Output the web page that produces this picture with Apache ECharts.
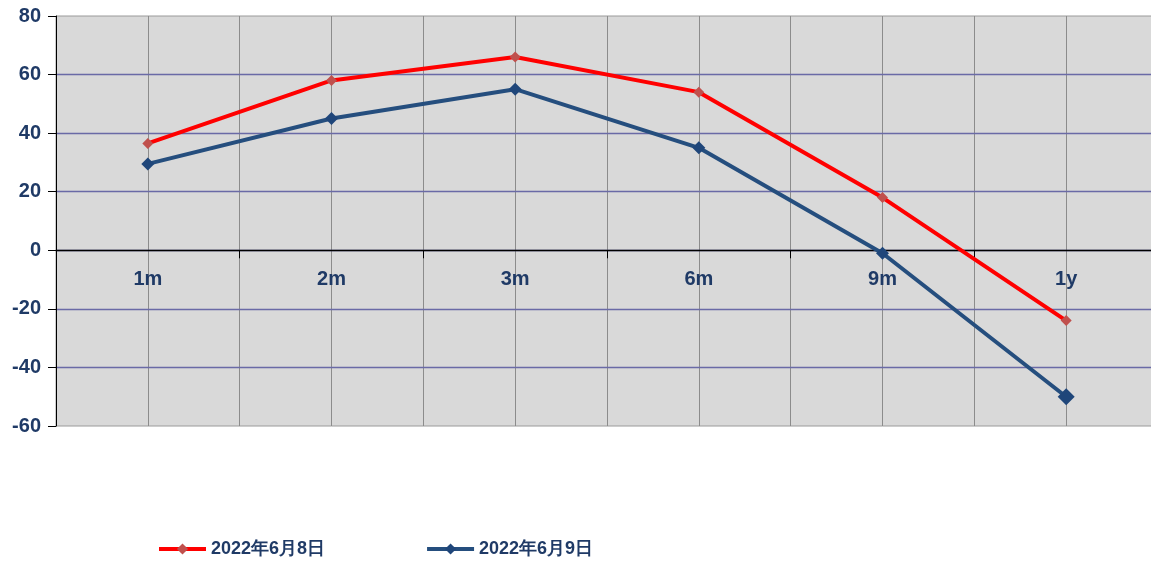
<!DOCTYPE html>
<html><head><meta charset="utf-8">
<script src="https://cdn.jsdelivr.net/npm/echarts@6/dist/echarts.min.js"></script>
<style>html,body{margin:0;padding:0;background:#fff;overflow:hidden}#c{width:1158px;height:574px}</style>
</head><body><div id="c"></div>
<script>
const categories = ['1m','2m','3m','6m','9m','1y'];
const series1Name = '2022年6月8日';
const series2Name = '2022年6月9日';
const series1 = [36.5, 58, 66, 54, 18, -24];
const series2 = [29.5, 45, 55, 35, -1, -50];
const yTicks = {min: -60, max: 80, interval: 20};

const halfCats = [];
categories.forEach(c => { halfCats.push(c + 'a'); halfCats.push(c + 'b'); });

const txt = '#1f3a66';
const font = '"Liberation Sans", Arial, sans-serif';
const gridTop = 16, gridH = 410;
const zeroOffset = gridH * (0 - yTicks.min) / (yTicks.max - yTicks.min);
const purple = '#6a6aa6', gray = '#9a9a9a';
const chart = echarts.init(document.getElementById('c'));
chart.setOption({
  animation: false,
  backgroundColor: '#fff',
  grid: {left: 56, right: 0, top: gridTop, height: gridH, show: true, backgroundColor: '#d9d9d9', borderColor: gray, borderWidth: 1},
  legend: {
    top: 535, left: 152, itemGap: 100, itemWidth: 47, itemHeight: 14,
    textStyle: {color: txt, fontWeight: 'bold', fontSize: 18, fontFamily: font},
    lineStyle: {width: 4},
    data: [series1Name, series2Name]
  },
  xAxis: [{
    type: 'category', data: categories, boundaryGap: true,
    position: 'bottom', offset: -zeroOffset, z: 2,
    axisLine: {onZero: false, lineStyle: {color: '#000', width: 1.3}},
    axisTick: {show: true, length: 8, lineStyle: {color: '#000'}},
    axisLabel: {color: txt, fontWeight: 'bold', fontSize: 20, fontFamily: font, margin: 19},
    splitLine: {show: false}
  }, {
    type: 'category', data: halfCats, boundaryGap: true, position: 'top',
    axisLine: {show: false}, axisTick: {show: false}, axisLabel: {show: false},
    splitLine: {show: true, lineStyle: {color: '#8c8c8c', width: 1}}
  }],
  yAxis: {
    type: 'value', min: yTicks.min, max: yTicks.max, interval: yTicks.interval,
    axisLine: {show: true, onZero: false, lineStyle: {color: '#000'}},
    axisTick: {show: true, length: 8, lineStyle: {color: '#000'}},
    axisLabel: {color: txt, fontWeight: 'bold', fontSize: 20, fontFamily: font, margin: 15},
    splitLine: {show: true, showMinLine: false, showMaxLine: false, lineStyle: {color: purple, width: 1.3}},
    z: 1
  },
  series: [{
    name: series1Name, type: 'line', data: series1, xAxisIndex: 0,
    symbol: 'diamond', symbolSize: 11,
    lineStyle: {color: '#ff0000', width: 4},
    itemStyle: {color: '#c0504d'}, z: 3
  }, {
    name: series2Name, type: 'line', xAxisIndex: 0,
    data: series2.map((v, i) => i === series2.length - 1 ? {value: v, symbolSize: 17} : v),
    symbol: 'diamond', symbolSize: 13,
    lineStyle: {color: '#254e7e', width: 4},
    itemStyle: {color: '#1f467a'}, z: 4
  }]
});
</script></body></html>
